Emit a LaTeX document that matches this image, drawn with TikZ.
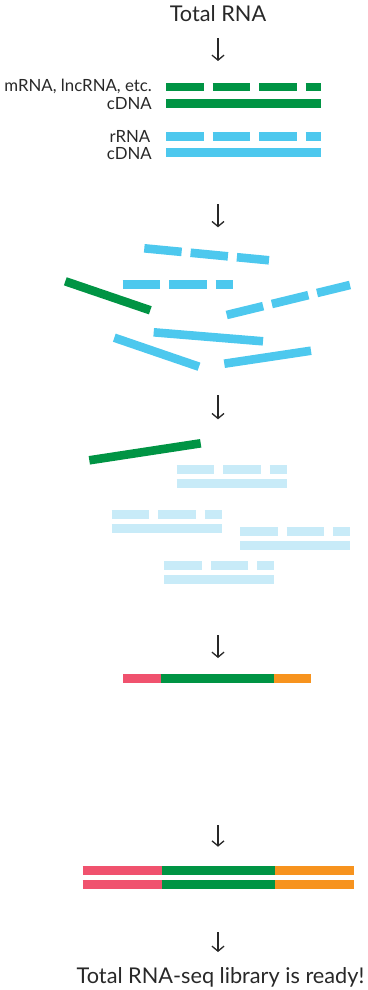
\documentclass[tikz,border=0pt]{standalone}
\usepackage{fontspec}
\setmainfont{Lato}
\usetikzlibrary{arrows.meta}
\definecolor{gr}{RGB}{0,148,68}
\definecolor{bl}{RGB}{77,200,238}
\definecolor{lb}{RGB}{200,235,248}
\definecolor{rd}{RGB}{240,82,110}
\definecolor{og}{RGB}{247,147,30}
\definecolor{txt}{RGB}{40,40,40}
\begin{document}
\begin{tikzpicture}[x=1pt,y=-1pt,
  lbl/.style={inner sep=0pt, text=txt, anchor=base east, font=\fontsize{16.8}{19}\selectfont},
  ttl/.style={inner sep=0pt, text=txt, anchor=base, font=\fontsize{21.7}{24}\selectfont},
  flow/.style={draw=txt, line width=1.3pt, -{Straight Barb[length=5pt,width=12pt]}},
  bar/.style={line width=8.6pt},
  lbar/.style={line width=9pt, lb},
  dsh/.style={dash pattern=on 37.5pt off 9pt},
  tri/.style={line width=9.5pt}
]
\useasboundingbox (0,0) rectangle (367,990);

% title
\node[ttl] (title) at (218,21.5) {Total RNA};
\coordinate (a1s) at (218,38.3); \coordinate (a1e) at (218,61);
\draw[flow] (a1s) -- (a1e);

% stage 1
\node[lbl] (lm) at (152,91.5) {mRNA, lncRNA, etc.};
\node[lbl] (lc1) at (152,109) {cDNA};
\node[lbl] (lr) at (150.5,142.5) {rRNA};
\node[lbl] (lc2) at (152,159) {cDNA};
\draw[bar, gr, dsh] (166,87) -- (321,87);
\draw[bar, gr] (166,103.5) -- (321,103.5);
\draw[bar, bl, dsh] (166,136.5) -- (321,136.5);
\draw[bar, bl] (166,152.5) -- (321,152.5);

\coordinate (a2s) at (218,204); \coordinate (a2e) at (218,227.3);
\draw[flow] (a2s) -- (a2e);

% stage 2: fragments
\draw[bar, bl, dsh] (144.3,248.3) -- (269,260.3);
\draw[bar, bl, dsh] (122.7,284.3) -- (232.7,284.3);
\draw[bar, gr] (65.3,281.3) -- (150.3,310.3);
\draw[bar, bl, dsh] (226.7,315) -- (350,285);
\draw[bar, bl] (153.7,332.3) -- (263,341.3);
\draw[bar, bl] (114.3,337.7) -- (199,366.7);
\draw[bar, bl] (224.3,363.7) -- (311,350.7);

\coordinate (a3s) at (218,395); \coordinate (a3e) at (218,419.3);
\draw[flow] (a3s) -- (a3e);

% stage 3
\draw[bar, gr] (89.3,460.3) -- (200.7,443.3);
\foreach \x/\ya/\yb in {176.7/469.5/483.7, 111.7/514.8/528.7, 240/531.8/545.7, 164.3/565.7/579.5}{
  \draw[lbar, dsh] (\x,\ya) -- ++(110,0);
  \draw[lbar] (\x,\yb) -- ++(110,0);
}

\coordinate (a4s) at (218,635); \coordinate (a4e) at (218,658);
\draw[flow] (a4s) -- (a4e);

% stage 4
\draw[tri, rd] (123.3,678.3) -- (160.7,678.3);
\draw[tri, gr] (160.7,678.3) -- (274,678.3);
\draw[tri, og] (274,678.3) -- (311,678.3);

\coordinate (a5s) at (218,825); \coordinate (a5e) at (218,846.7);
\draw[flow] (a5s) -- (a5e);

% stage 5
\foreach \y in {870.3, 884.5}{
  \draw[tri, rd] (82.7,\y) -- (161.7,\y);
  \draw[tri, gr] (161.7,\y) -- (275,\y);
  \draw[tri, og] (275,\y) -- (354.3,\y);
}

\coordinate (a6s) at (218,932); \coordinate (a6e) at (218,952);
\draw[flow] (a6s) -- (a6e);

\node[ttl] (done) at (220.5,983.3) {Total RNA-seq library is ready!};
\end{tikzpicture}
\end{document}
